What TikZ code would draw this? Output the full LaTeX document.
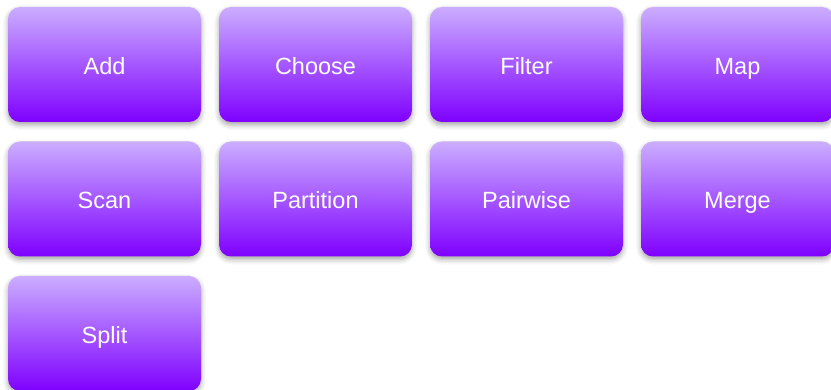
\documentclass[tikz,border=0pt]{standalone}
\usepackage{fontspec}
\setmainfont{Liberation Sans}
\usetikzlibrary{shadows.blur}
\definecolor{topc}{HTML}{CBAEFF}
\definecolor{botc}{HTML}{7F00FF}
\tikzset{
  opbox/.style={rounded corners=12pt, minimum width=193pt, minimum height=115pt,
    top color=topc, bottom color=botc, draw=none, text=white, inner sep=0pt,
    text height=20pt, text depth=0pt,
    font=\fontsize{23.5}{26}\selectfont,
    blur shadow={shadow xshift=0pt, shadow yshift=-3pt, shadow blur radius=5pt, shadow opacity=35}}
}
\begin{document}
\begin{tikzpicture}[x=1pt,y=-1pt]
\useasboundingbox (0,0) rectangle (831,390);
\node[opbox] (add) at (104.5,64.5) {Add};
\node[opbox] (choose) at (315.5,64.5) {Choose};
\node[opbox] (filter) at (526.5,64.5) {Filter};
\node[opbox] (map) at (737.5,64.5) {Map};
\node[opbox] (scan) at (104.5,199) {Scan};
\node[opbox] (partition) at (315.5,199) {Partition};
\node[opbox] (pairwise) at (526.5,199) {Pairwise};
\node[opbox] (merge) at (737.5,199) {Merge};
\node[opbox] (split) at (104.5,333.5) {Split};
\end{tikzpicture}
\end{document}
